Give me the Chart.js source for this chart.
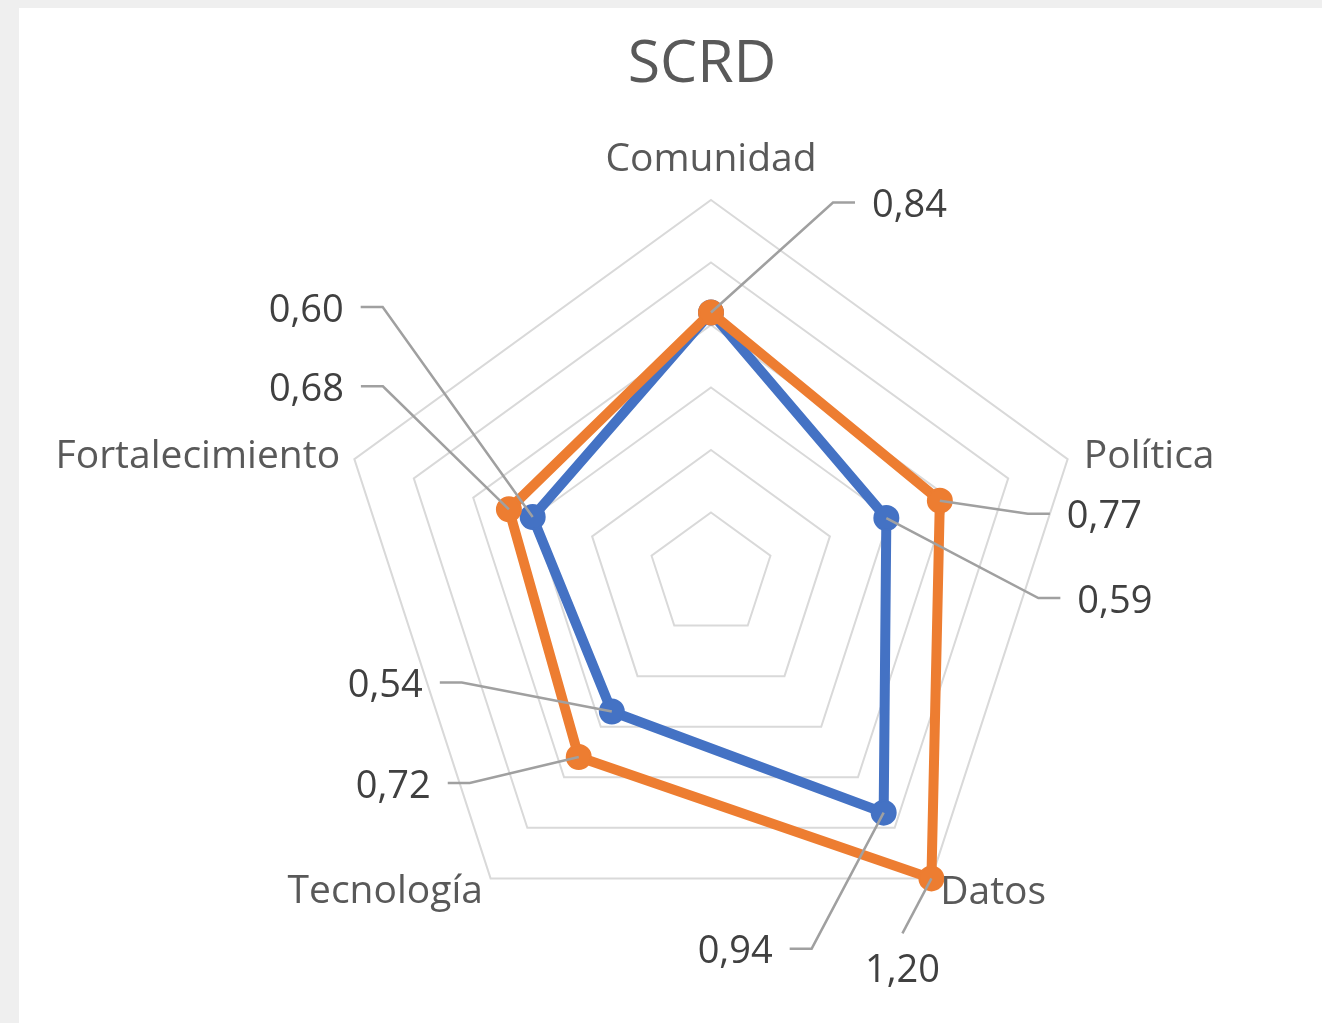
<!DOCTYPE html>
<html lang="es">
<head>
<meta charset="utf-8">
<title>SCRD</title>
<script src="https://cdn.jsdelivr.net/npm/chart.js@4.4.1/dist/chart.umd.min.js"></script>
<style>
    html, body { margin: 0; padding: 0; background: #efefef; }
    .card { position: absolute; left: 19px; top: 8px; width: 1303px; height: 1015px; background: #fff; }
</style>
</head>
<body>
<div class="card"><canvas id="radarChart"></canvas></div>
<script>
// --- DATA ---
const chartTitle = 'SCRD';
const categories = ['Comunidad', 'Política', 'Datos', 'Tecnología', 'Fortalecimiento'];
const blueValues = [0.84, 0.59, 0.94, 0.54, 0.60];
const orangeValues = [0.84, 0.77, 1.20, 0.72, 0.68];
const scaleTicks = [0, 0.2, 0.4, 0.6, 0.8, 1.0, 1.2];

// --- LABEL PLACEMENT (leader line bend offset from the point, side of the text) ---
const blueLabelPos = [
    null,
    { dx: 152, dy: 80, side: 'right' },
    { dx: -72, dy: 136, side: 'left' },
    { dx: -150, dy: -29, side: 'left' },
    { dx: -150, dy: -210, side: 'left' }
];
const orangeLabelPos = [
    { dx: 122, dy: -110, side: 'right' },
    { dx: 88, dy: 13, side: 'right' },
    { dx: -29, dy: 55, side: 'below' },
    { dx: -109, dy: 26, side: 'left' },
    { dx: -126, dy: -123, side: 'left' }
];
const pointLabelPad = [43, 17, 15, 13, 15];

const FONT = '"Open Sans", "Noto Sans", sans-serif';
const CAP = 0.357; // half cap height of Open Sans, in em

const fmt = v => v.toFixed(2).replace('.', ',');

// title + category labels
const radarText = {
    id: 'radarText',
    afterDraw(chart) {
        const ctx = chart.ctx;
        const scale = chart.scales.r;
        ctx.save();
        ctx.fillStyle = '#595959';
        ctx.textBaseline = 'alphabetic';

        ctx.font = '59px ' + FONT;
        ctx.textAlign = 'center';
        ctx.fillText(chartTitle, scale.xCenter - 9, 74);

        ctx.font = '39px ' + FONT;
        categories.forEach((label, i) => {
            const p = scale.getPointPosition(i, scale.drawingArea + pointLabelPad[i]);
            const off = p.x - scale.xCenter;
            ctx.textAlign = Math.abs(off) < 1 ? 'center' : (off > 0 ? 'left' : 'right');
            ctx.fillText(label, p.x, p.y + CAP * 39);
        });
        ctx.restore();
    }
};

// data labels with leader lines
const leaderLabels = {
    id: 'leaderLabels',
    afterDatasetsDraw(chart) {
        const ctx = chart.ctx;
        const placements = [blueLabelPos, orangeLabelPos];
        ctx.save();
        ctx.font = '38px ' + FONT;
        ctx.textBaseline = 'alphabetic';
        chart.data.datasets.forEach((ds, di) => {
            const meta = chart.getDatasetMeta(di);
            meta.data.forEach((pt, i) => {
                const pos = placements[di][i];
                if (!pos) return;
                const bx = pt.x + pos.dx;
                const by = pt.y + pos.dy;
                let tx = bx, ty = by + 1;
                ctx.strokeStyle = '#a0a0a0';
                ctx.lineWidth = 2.5;
                ctx.beginPath();
                ctx.moveTo(pt.x, pt.y);
                ctx.lineTo(bx, by);
                if (pos.side === 'right') {
                    ctx.lineTo(bx + 22, by);
                    tx = bx + 39;
                    ctx.textAlign = 'left';
                } else if (pos.side === 'left') {
                    ctx.lineTo(bx - 22, by);
                    tx = bx - 39;
                    ctx.textAlign = 'right';
                } else {
                    ty = by + 35;
                    ctx.textAlign = 'center';
                }
                ctx.stroke();
                ctx.fillStyle = '#404040';
                ctx.fillText(fmt(ds.data[i]), tx, ty + CAP * 38);
            });
        });
        ctx.restore();
    }
};

document.addEventListener('DOMContentLoaded', () => {
    const ctx = document.getElementById('radarChart');
    new Chart(ctx, {
        type: 'radar',
        data: {
            labels: categories,
            datasets: [{
                label: 'Serie 1',
                data: blueValues,
                borderColor: '#4472c4',
                backgroundColor: '#4472c4',
                pointBackgroundColor: '#4472c4',
                pointBorderColor: '#4472c4',
                order: 1
            }, {
                label: 'Serie 2',
                data: orangeValues,
                borderColor: '#ed7d31',
                backgroundColor: '#ed7d31',
                pointBackgroundColor: '#ed7d31',
                pointBorderColor: '#ed7d31',
                order: 0
            }]
        },
        options: {
            responsive: true,
            maintainAspectRatio: false,
            animation: false,
            layout: { padding: { left: 317, right: 236, top: 192, bottom: 73 } },
            elements: {
                line: { borderWidth: 10, fill: false, tension: 0, borderJoinStyle: 'round' },
                point: { radius: 12, borderWidth: 2, hoverRadius: 12 }
            },
            plugins: {
                legend: { display: false },
                title: { display: false },
                tooltip: { enabled: false }
            },
            scales: {
                r: {
                    min: scaleTicks[0],
                    max: scaleTicks[scaleTicks.length - 1],
                    afterBuildTicks: scale => { scale.ticks = scaleTicks.map(v => ({ value: v })); },
                    ticks: { display: false },
                    grid: { color: '#d9d9d9', lineWidth: 2 },
                    angleLines: { display: false },
                    pointLabels: { display: false }
                }
            }
        },
        plugins: [leaderLabels, radarText]
    });
});
</script>
</body>
</html>
